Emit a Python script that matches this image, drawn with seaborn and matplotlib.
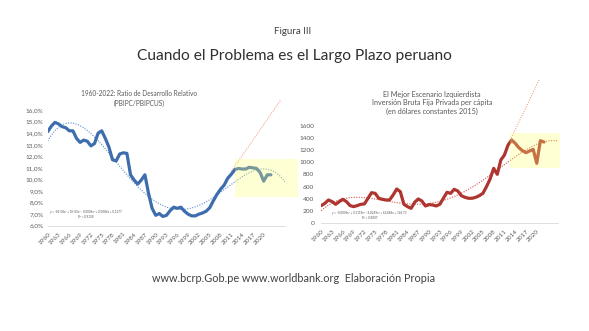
import numpy as np
import pandas as pd
import matplotlib
matplotlib.use("Agg")
import matplotlib.pyplot as plt
import seaborn as sns
from matplotlib.patches import Rectangle
from matplotlib.ticker import FuncFormatter

# ---------------- data ----------------
years = list(range(1960, 2023))
ratio_pct = [14.13, 14.6, 14.93, 14.8, 14.56, 14.47, 14.2, 14.2, 13.55, 13.2,
             13.4, 13.3, 12.9, 13.1, 14.0, 14.2, 13.55, 12.8, 11.7, 11.6,
             12.2, 12.3, 12.25, 10.4, 9.95, 9.6, 9.95, 10.4, 8.8, 7.5,
             6.9, 7.05, 6.8, 6.9, 7.3, 7.6, 7.5, 7.6, 7.25, 7.0,
             6.85, 6.85, 7.0, 7.1, 7.25, 7.55, 8.15, 8.7, 9.15, 9.5,
             10.1, 10.45, 10.85, 10.95, 10.9, 10.9, 11.05, 11.0, 10.95, 10.6,
             9.85, 10.4, 10.4]
inversion = [290, 328, 382, 355, 311, 355, 393, 355, 290, 273,
             290, 311, 317, 410, 502, 491, 410, 393, 382, 382,
             464, 562, 519, 311, 273, 245, 344, 399, 366, 284,
             306, 300, 284, 311, 410, 508, 491, 557, 530, 453,
             426, 410, 410, 426, 453, 491, 601, 726, 901, 803,
             1038, 1119, 1283, 1365, 1311, 1240, 1190, 1158, 1185, 1212,
             983, 1354, 1332]
tick_years = list(range(1960, 2021, 3))
left_yticks = [6, 7, 8, 9, 10, 11, 12, 13, 14, 15, 16]
right_yticks = [0, 200, 400, 600, 800, 1000, 1200, 1400, 1600]
forecast_periods = 4

proj_left_years = [2011, 2024.8]
proj_left_vals = [10.7, 16.9]
proj_right_years = [2010, 2020.8]
proj_right_vals = [1040, 2370]

box_left_years = [2011.9, 2029.4]
box_left_vals = [8.5, 11.8]
box_right_years = [2012.5, 2026.4]
box_right_vals = [912, 1485]

left_title = "1960-2022: Ratio de Desarrollo Relativo\n(PBIPC/PBIPCUS)"
right_title = "El Mejor Escenario Izquierdista\nInversión Bruta Fija Privada per cápita\n(en dólares constantes 2015)"
left_eq = "y = -8E-08x⁴ + 1E-05x³ - 0,0006x² + 0,0084x + 0,1277\nR² = 0,9128"
right_eq = "y = -0,0006x⁴ + 0,1118x³ - 4,8249x² + 62,868x + 146,73\nR² = 0,8807"

df = pd.DataFrame({"year": years, "ratio": ratio_pct, "inv": inversion})

# ---------------- style ----------------
sns.set_theme(style="white")
plt.rcParams['font.family'] = ['Lato', 'DejaVu Sans']
TXT = "#595959"

fig = plt.figure(figsize=(5.89, 3.31), dpi=100)
axL = fig.add_axes([0.081, 0.3181, 0.4034, 0.381])
axR = fig.add_axes([0.5455, 0.3254, 0.4024, 0.2949])


def poly_trend(vals):
    t = np.arange(1, len(vals) + 1)
    c = np.polyfit(t, vals, 4)
    tt = np.linspace(1, len(vals) + forecast_periods, 300)
    return tt + years[0] - 1, np.polyval(c, tt)


def style_axis(ax, yticks, fmt, ypad):
    ax.set_xlim(years[0], years[-1] + forecast_periods)
    ax.set_xticks(tick_years)
    ax.set_xticklabels([str(y) for y in tick_years], rotation=45, ha="right",
                       rotation_mode="anchor", fontsize=4.6, color=TXT)
    ax.set_yticks(yticks)
    ax.yaxis.set_major_formatter(FuncFormatter(fmt))
    ax.tick_params(axis="y", labelsize=4.6, labelcolor=TXT, length=0, pad=ypad)
    ax.tick_params(axis="x", length=0, pad=4)
    for s in ["top", "right", "left"]:
        ax.spines[s].set_visible(False)
    ax.spines["bottom"].set_color("#d9d9d9")
    ax.spines["bottom"].set_linewidth(0.6)
    ax.set_xlabel("")
    ax.set_ylabel("")
    ax.grid(False)


# ---------------- left chart ----------------
sns.lineplot(data=df, x="year", y="ratio", ax=axL, color="#3E6DAE", lw=2.3, zorder=3)
tx, ty = poly_trend(ratio_pct)
axL.plot(tx, ty, color="#5B8FD0", lw=0.8, ls=(0, (1, 1.3)), zorder=2)
axL.plot(proj_left_years, proj_left_vals, color="#F08A6A", lw=0.7, ls=(0, (1, 1.5)),
         zorder=2, clip_on=False)
axL.set_ylim(6, 16.9)
style_axis(axL, left_yticks, lambda v, p: f"{v:.1f}%".replace(".", ","), 3)
axL.add_patch(Rectangle((box_left_years[0], box_left_vals[0]),
                        box_left_years[1] - box_left_years[0],
                        box_left_vals[1] - box_left_vals[0],
                        facecolor=(1, 1, 0.45), alpha=0.3, lw=0, zorder=5, clip_on=False))
axL.text(1960.5, 7.0, left_eq, fontsize=2.2, color=TXT, ha="left", va="center",
         multialignment="center", linespacing=1.3)
fig.text(139 / 589, 1 - 98.5 / 331, left_title, ha="center", va="center",
         fontsize=4.7, color=TXT, linespacing=1.3)

# ---------------- right chart ----------------
sns.lineplot(data=df, x="year", y="inv", ax=axR, color="#AE3530", lw=2.3, zorder=3)
tx, ty = poly_trend(inversion)
axR.plot(tx, ty, color="#D9534A", lw=0.8, ls=(0, (1, 1.3)), zorder=2)
axR.plot(proj_right_years, proj_right_vals, color="#F08A6A", lw=0.7, ls=(0, (1, 1.5)),
         zorder=2, clip_on=False)
axR.set_ylim(0, 1600)
style_axis(axR, right_yticks, lambda v, p: f"{int(v)}", 5)
axR.add_patch(Rectangle((box_right_years[0], box_right_vals[0]),
                        box_right_years[1] - box_right_years[0],
                        box_right_vals[1] - box_right_vals[0],
                        facecolor=(1, 1, 0.45), alpha=0.3, lw=0, zorder=5, clip_on=False))
axR.text(1963, 130, right_eq, fontsize=2.2, color=TXT, ha="left", va="center",
         multialignment="center", linespacing=1.3)
fig.text(432 / 589, 1 - 103 / 331, right_title, ha="center", va="center",
         fontsize=5.2, color=TXT, linespacing=1.2)

# ---------------- figure texts ----------------
fig.text(293 / 589, 1 - 32 / 331, "Figura III", ha="center", va="center",
         fontsize=7, color="#404040")
fig.text(294.5 / 589, 1 - 56 / 331, "Cuando el Problema es el Largo Plazo peruano",
         ha="center", va="center", fontsize=11.2, color="#303030")
fig.text(294 / 589, 1 - 278 / 331,
         "www.bcrp.Gob.pe www.worldbank.org  Elaboración Propia",
         ha="center", va="center", fontsize=7.8, color="#404040")

fig.savefig("out.png", dpi=100, facecolor="white")
